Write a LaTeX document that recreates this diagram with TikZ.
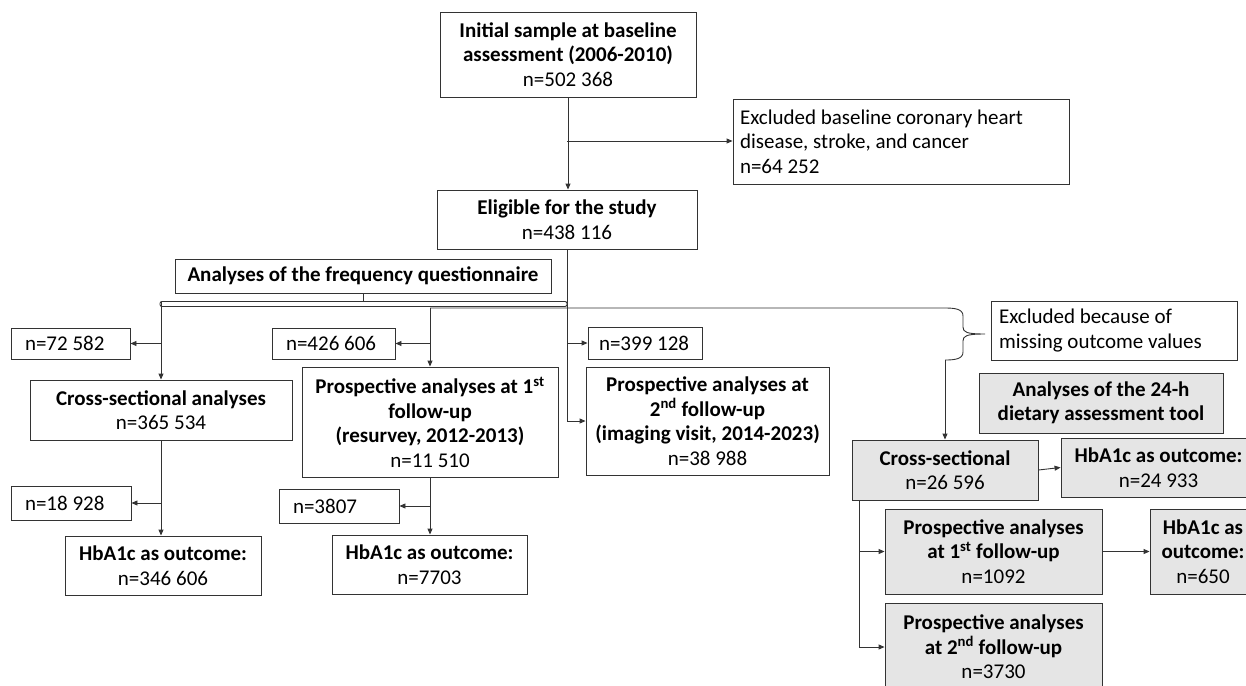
\documentclass[tikz,border=0pt]{standalone}
\usepackage{fontspec}
\setmainfont{Carlito}
\usetikzlibrary{arrows.meta}
\newcommand\fs{\fontsize{21}{24.5}\selectfont}
\tikzset{
  box/.style={draw=black!80, line width=0.9pt, inner sep=0pt, align=flush center, font=\fs},
  gbox/.style={box, fill=black!10},
  conn/.style={draw=black!80, line width=0.9pt},
  arr/.style={conn, -{Triangle[length=6pt,width=5pt]}},
}
\newcommand\bx[7][]{\node[box,minimum width={#5-#3},minimum height={#6-#4},#1] (#2) at ({(#3+#5)/2},{(#4+#6)/2}) {#7};}
\begin{document}
\begin{tikzpicture}[x=1pt,y=-1pt]
\useasboundingbox (0,0) rectangle (1246,685);
% boxes
\bx{init}{440}{12}{696}{97}{\textbf{Initial sample at baseline}\\\textbf{assessment (2006-2010)}\\n=502 368}
\bx[align=flush left,text width=322pt]{ex1}{733}{99}{1069}{184}{Excluded baseline coronary heart\\disease, stroke, and cancer\\n=64 252}
\bx{elig}{437}{190}{697}{249}{\textbf{Eligible for the study}\\n=438 116}
\bx{freq}{175}{259}{551}{293}{\textbf{Analyses of the frequency questionnaire}}
\bx[align=flush left,text width=91pt]{n72}{11}{328}{130}{359}{n=72 582}
\bx[align=flush left,text width=95pt]{n426}{272}{328}{395}{359}{n=426 606}
\bx[align=flush left,text width=92pt]{n399}{588}{327}{702}{359}{n=399 128}
\bx{cs}{30}{380}{292}{440}{\textbf{Cross-sectional analyses}\\n=365 534}
\bx{p1}{302}{367}{558}{477}{\textbf{Prospective analyses at 1\textsuperscript{st}}\\\textbf{follow-up}\\\textbf{(resurvey, 2012-2013)}\\n=11 510}
\bx{p2}{586}{367}{829}{475}{\textbf{Prospective analyses at}\\\textbf{2\textsuperscript{nd} follow-up}\\\textbf{(imaging visit, 2014-2023)}\\n=38 988}
\bx[align=flush left,text width=92pt]{n18}{11}{486}{131}{520}{n=18 928}
\bx[align=flush left,text width=92pt]{n38}{279}{489}{399}{523}{n=3807}
\bx{hb1}{65}{536}{261}{595}{\textbf{HbA1c as outcome:}\\n=346 606}
\bx{hb2}{332}{535}{527}{594}{\textbf{HbA1c as outcome:}\\n=7703}
\bx[align=flush left,text width=230pt]{ex2}{991}{301}{1237}{360}{Excluded because of\\missing outcome values}
\bx[gbox]{a24}{979}{373}{1223}{433}{\textbf{Analyses of the 24-h}\\\textbf{dietary assessment tool}}
\bx[gbox]{cs24}{852}{440}{1038}{500}{\textbf{Cross-sectional}\\n=26 596}
\bx[gbox]{hb24}{1061}{438}{1256}{497}{\textbf{HbA1c as outcome:}\\n=24 933}
\bx[gbox]{p124}{885}{509}{1102}{594}{\textbf{Prospective analyses}\\\textbf{at 1\textsuperscript{st} follow-up}\\n=1092}
\bx[gbox]{hb650}{1150}{509}{1256}{594}{\textbf{HbA1c as}\\\textbf{outcome:}\\n=650}
\bx[gbox]{p224}{885}{603}{1102}{691}{\textbf{Prospective analyses}\\\textbf{at 2\textsuperscript{nd} follow-up}\\n=3730}
% top connectors
\draw[arr] (init.south) -- (init.south |- elig.north);
\coordinate (j1) at (567,141);
\draw[arr] (j1) -- (j1 -| ex1.west);
\draw[arr] (elig.south) |- (p2.west);
\coordinate (j3) at (567,343);
\draw[arr] (j3) -- (j3 -| n399.west);
% bracket under questionnaire box
\draw[conn] (freq.south) -- ++(0,8.5);
\draw[conn, rounded corners=2pt] (160,301.5) rectangle (567,306.5);
% left branch
\coordinate (b1) at (161,301.5);
\draw[arr] (b1) -- (cs.north);
\draw[arr] (cs.north |- n72.east) -- (n72.east);
% middle branch
\coordinate (b2) at (430,308);
\draw[arr] (b2) -- (p1.north);
\draw[arr] (p1.north |- n426.east) -- (n426.east);
% long line with brace
\coordinate (b3) at (945,308);
\coordinate (b4) at (945,360);
\draw[conn] (b2) -- (b3) .. controls (955,308) and (963,309) .. (963,316) -- (963,327) .. controls (963,332) and (966,334) .. (985,334) .. controls (966,334) and (963,336) .. (963,341) -- (963,352) .. controls (963,359) and (955,360) .. (b4);
\draw[arr] (b4) -- (b4 |- cs24.north);
% lower FFQ
\draw[arr] (cs.south) -- (cs.south |- hb1.north);
\draw[arr] (cs.south |- n18.east) -- (n18.east);
\draw[arr] (p1.south) -- (p1.south |- hb2.north);
\draw[arr] (p1.south |- n38.east) -- (n38.east);
% 24-h
\draw[arr] (cs24.east) -- (hb24.west);
\coordinate (c1) at (859,500);
\draw[arr] (c1) |- (p124.west);
\draw[arr] (c1) |- (p224.west);
\draw[arr] (p124.east) -- (hb650.west);
\end{tikzpicture}
\end{document}
